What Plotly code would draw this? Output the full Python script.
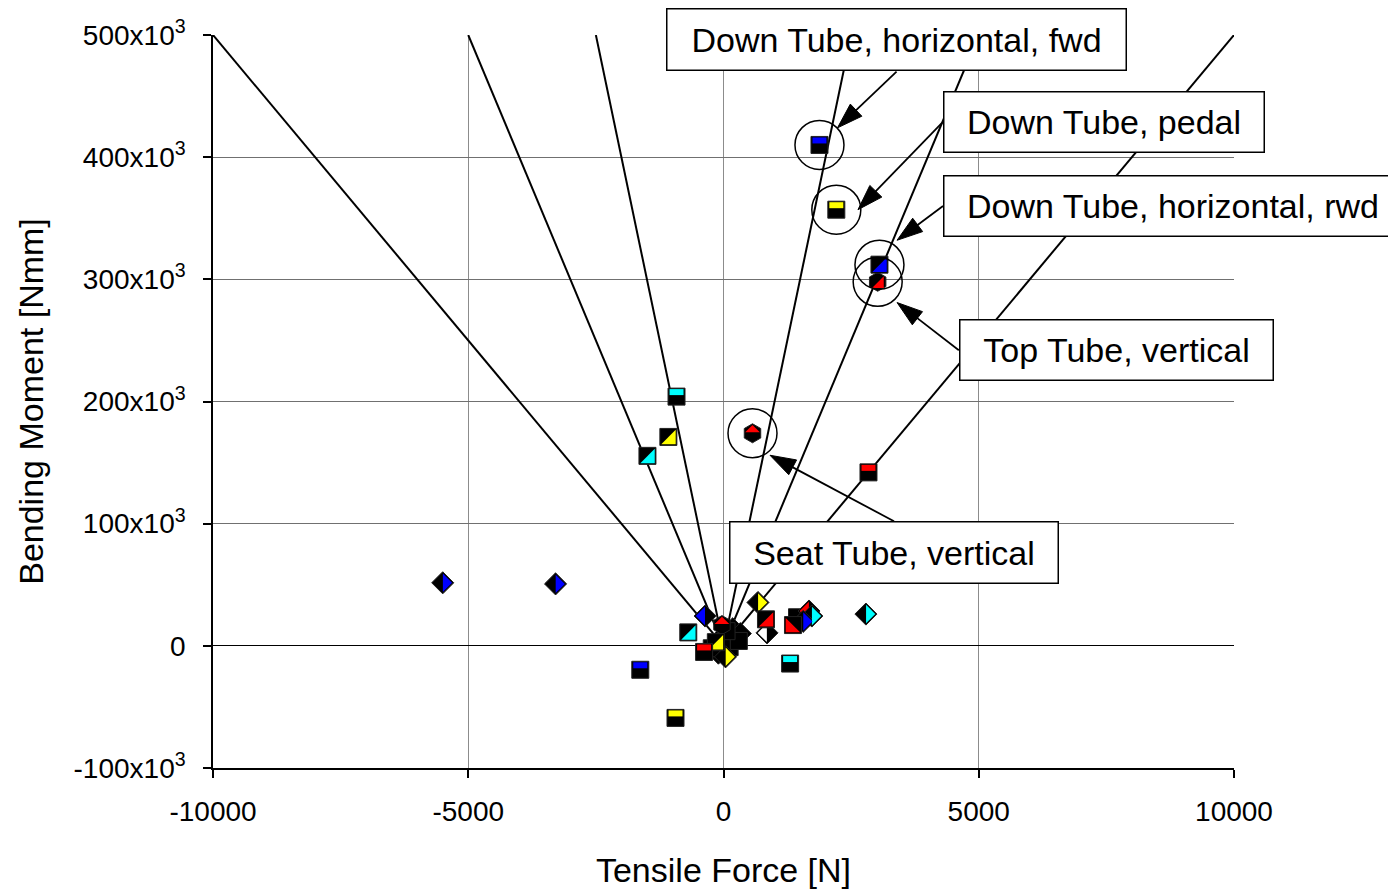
import plotly.graph_objects as go

FONT = "Liberation Sans, Arial, sans-serif"

# ---------------- axes / ticks ----------------
x_ticks = [-10000, -5000, 0, 5000, 10000]
x_ticklabels = ["-10000", "-5000", "0", "5000", "10000"]
y_ticks = [-100e3, 0, 100e3, 200e3, 300e3, 400e3, 500e3]
y_ticklabels = ["-100x10<sup>3</sup>", "0", "100x10<sup>3</sup>", "200x10<sup>3</sup>",
                "300x10<sup>3</sup>", "400x10<sup>3</sup>", "500x10<sup>3</sup>"]
x_range = [-10000, 10000]
y_range = [-100e3, 500e3]

# reference rays from the origin to the top edge (x at M = 500e3)
ray_end_x = [-10000, -5000, -2500, 2500, 5000, 10000]
ray_end_y = 500e3

# ---------------- data points ----------------
# squares with coloured top stripe
sqtop_x = [1880, 2210, -920, 2840, -1630, -940, 1305, -380]
sqtop_y = [410e3, 357e3, 204e3, 142e3, -19.6e3, -59e3, -14.5e3, -5e3]
sqtop_c = ["blue", "yellow", "cyan", "red", "blue", "yellow", "cyan", "red"]

# squares with coloured lower-right triangle
sqse_x = [3055, -1080, -1490, -690, 832, -150]
sqse_y = [312e3, 171e3, 155.5e3, 11e3, 21.7e3, 3e3]
sqse_c = ["blue", "yellow", "cyan", "cyan", "red", "yellow"]

# squares with coloured lower-left triangle
sqsw_x = [1361]
sqsw_y = [17e3]
sqsw_c = ["red"]

# plain black squares
sq_x = [1440, -230, 120, 300, 60]
sq_y = [23.4e3, -2e3, -1e3, 4e3, 12e3]

# diamonds with coloured right half
dmr_x = [-5500, -3290, 2790, 675, 1730, 1560, 40]
dmr_y = [51.6e3, 50.7e3, 26e3, 35.5e3, 24.4e3, 20e3, -9e3]
dmr_c = ["blue", "blue", "cyan", "yellow", "cyan", "blue", "yellow"]

# diamonds with coloured left half
dml_x = [-360, 852, 1675]
dml_y = [24.4e3, 10.6e3, 28.5e3]
dml_c = ["blue", "white", "red"]

# plain black diamonds
dm_x = [240, 180, 330, -60, -100]
dm_y = [8e3, 14e3, 10e3, 6e3, -6e3]

# hexagons with coloured cap / lower-right
hxt_x = [568, -30]
hxt_y = [174e3, 17e3]
hxt_c = ["red", "red"]
hxs_x = [3020]
hxs_y = [298e3]
hxs_c = ["red"]

# ---------------- callouts ----------------
callout_x = [1880, 2210, 3055, 3020, 568]
callout_y = [410e3, 357e3, 312e3, 298e3, 174e3]
labels = ["Down Tube, horizontal, fwd", "Down Tube, pedal", "Down Tube, horizontal, rwd",
          "Top Tube, vertical", "Seat Tube, vertical"]
box_x = [3389, 7454, 8805, 7698, 3340]
box_y = [496.3e3, 428.7e3, 360e3, 242.1e3, 76.4e3]
tail_x = [3390, 4280, 4300, 4610, 3340]
tail_y = [470e3, 428e3, 360e3, 242e3, 102e3]
head_x = [2233, 2634, 3400, 3400, 911]
head_y = [424e3, 357e3, 332e3, 281e3, 156e3]

# ---------------- layout geometry ----------------
W, H = 1388, 889
M = dict(l=213, r=154, t=35, b=121)
plot_w = W - M["l"] - M["r"]
plot_h = H - M["t"] - M["b"]
px_per_x = plot_w / (x_range[1] - x_range[0])
px_per_y = plot_h / (y_range[1] - y_range[0])
box_w = [461, 322, 460, 315, 330]
box_h = [63, 62, 62, 62, 63]

fig = go.Figure()

# rays
rx, ry = [], []
for ex in ray_end_x:
    rx += [0, ex, None]
    ry += [0, ray_end_y, None]
fig.add_trace(go.Scatter(x=rx, y=ry, mode="lines", line=dict(color="black", width=2),
                         hoverinfo="skip", showlegend=False))


def base(x, y, symbol, size):
    fig.add_trace(go.Scatter(x=x, y=y, mode="markers", showlegend=False,
                             marker=dict(symbol=symbol, size=size, color="black",
                                         line=dict(color="#222", width=1))))


def overlay(x, y, colors, symbol, size, angle=0, dx_px=0.0, dy_px=0.0):
    """coloured part of a split marker; dx/dy are screen pixel offsets (right/down)"""
    xs = [v + dx_px / px_per_x for v in x]
    ys = [v - dy_px / px_per_y for v in y]
    fig.add_trace(go.Scatter(x=xs, y=ys, mode="markers", showlegend=False, hoverinfo="skip",
                             marker=dict(symbol=symbol, size=size, color=colors, angle=angle,
                                         line=dict(width=0))))


# plain
base(dm_x, dm_y, "diamond", 17)
base(sq_x, sq_y, "square", 17)
# diamonds left
base(dml_x, dml_y, "diamond", 17)
overlay(dml_x, dml_y, dml_c, "triangle-nw", 14.5, -45, dx_px=-3.2)
# diamonds right
base(dmr_x, dmr_y, "diamond", 17)
overlay(dmr_x, dmr_y, dmr_c, "triangle-se", 14.5, -45, dx_px=3.2)
# hexagons
base(hxs_x, hxs_y, "hexagon", 19)
overlay(hxs_x, hxs_y, hxs_c, "triangle-se", 13, 0, dx_px=2.2, dy_px=2.2)
base(hxt_x, hxt_y, "hexagon", 19)
overlay(hxt_x, hxt_y, hxt_c, "triangle-ne", 11.5, -45, dy_px=-3.5)
# squares lower-left
base(sqsw_x, sqsw_y, "square", 17)
overlay(sqsw_x, sqsw_y, sqsw_c, "triangle-sw", 16, dx_px=-2.5, dy_px=2.5)
# squares lower-right
base(sqse_x, sqse_y, "square", 17)
overlay(sqse_x, sqse_y, sqse_c, "triangle-se", 16, dx_px=2.5, dy_px=2.5)
# squares top stripe
base(sqtop_x, sqtop_y, "square", 17)
fig.add_trace(go.Scatter(x=sqtop_x, y=[v + 4.5 / px_per_y for v in sqtop_y], mode="markers",
                         showlegend=False, hoverinfo="skip",
                         marker=dict(symbol="line-ew-open", size=10, color=sqtop_c,
                                     line=dict(color=sqtop_c, width=6))))

# circles around highlighted points
R = 24.5
for cx, cy in zip(callout_x, callout_y):
    fig.add_shape(type="circle", xref="x", yref="y", xsizemode="pixel", ysizemode="pixel",
                  xanchor=cx, yanchor=cy, x0=-R, x1=R, y0=-R, y1=R,
                  line=dict(color="black", width=1.5), layer="above")

# arrows (line from box to head, arrow marker oriented along the line)
for hx, hy, tx, ty in zip(head_x, head_y, tail_x, tail_y):
    fig.add_trace(go.Scatter(x=[tx, hx], y=[ty, hy], mode="lines+markers",
                             showlegend=False, hoverinfo="skip", cliponaxis=False,
                             line=dict(color="black", width=1.8),
                             marker=dict(symbol=["circle", "arrow"], size=[0, 27],
                                         angleref="previous", color="black", opacity=1,
                                         line=dict(color="black", width=1))))

# label boxes
pad, bw = 8, 1.5
for t, bx, by, w, h in zip(labels, box_x, box_y, box_w, box_h):
    fig.add_annotation(x=bx, y=by, xref="x", yref="y", text=t, showarrow=False,
                       xanchor="center", yanchor="middle",
                       width=w - 2 * (pad + bw), height=h - 2 * (pad + bw),
                       borderpad=pad, borderwidth=bw, bordercolor="black", bgcolor="white",
                       font=dict(family=FONT, size=34, color="black"))

fig.update_layout(
    width=W, height=H, margin=M, autosize=False,
    paper_bgcolor="white", plot_bgcolor="white",
    font=dict(family=FONT, color="black"),
    showlegend=False,
    xaxis=dict(range=x_range, tickvals=x_ticks, ticktext=x_ticklabels, automargin=False,
               showgrid=True, gridcolor="#8c8c8c", gridwidth=1, zeroline=False,
               showline=True, linecolor="black", linewidth=1.5,
               ticks="outside", ticklen=8, tickcolor="black", tickwidth=1.5,
               ticklabelstandoff=10, tickfont=dict(size=28),
               title=dict(text="Tensile Force [N]", font=dict(size=34), standoff=32)),
    yaxis=dict(range=y_range, tickvals=y_ticks, ticktext=y_ticklabels, automargin=False,
               showgrid=True, gridcolor="#707070", gridwidth=1,
               zeroline=True, zerolinecolor="black", zerolinewidth=1,
               showline=True, linecolor="black", linewidth=1.5,
               ticks="outside", ticklen=8, tickcolor="black", tickwidth=1.5,
               ticklabelstandoff=12, tickfont=dict(size=28),
               title=dict(text="Bending Moment [Nmm]", font=dict(size=34), standoff=20)),
)

fig.write_html("out.html")
